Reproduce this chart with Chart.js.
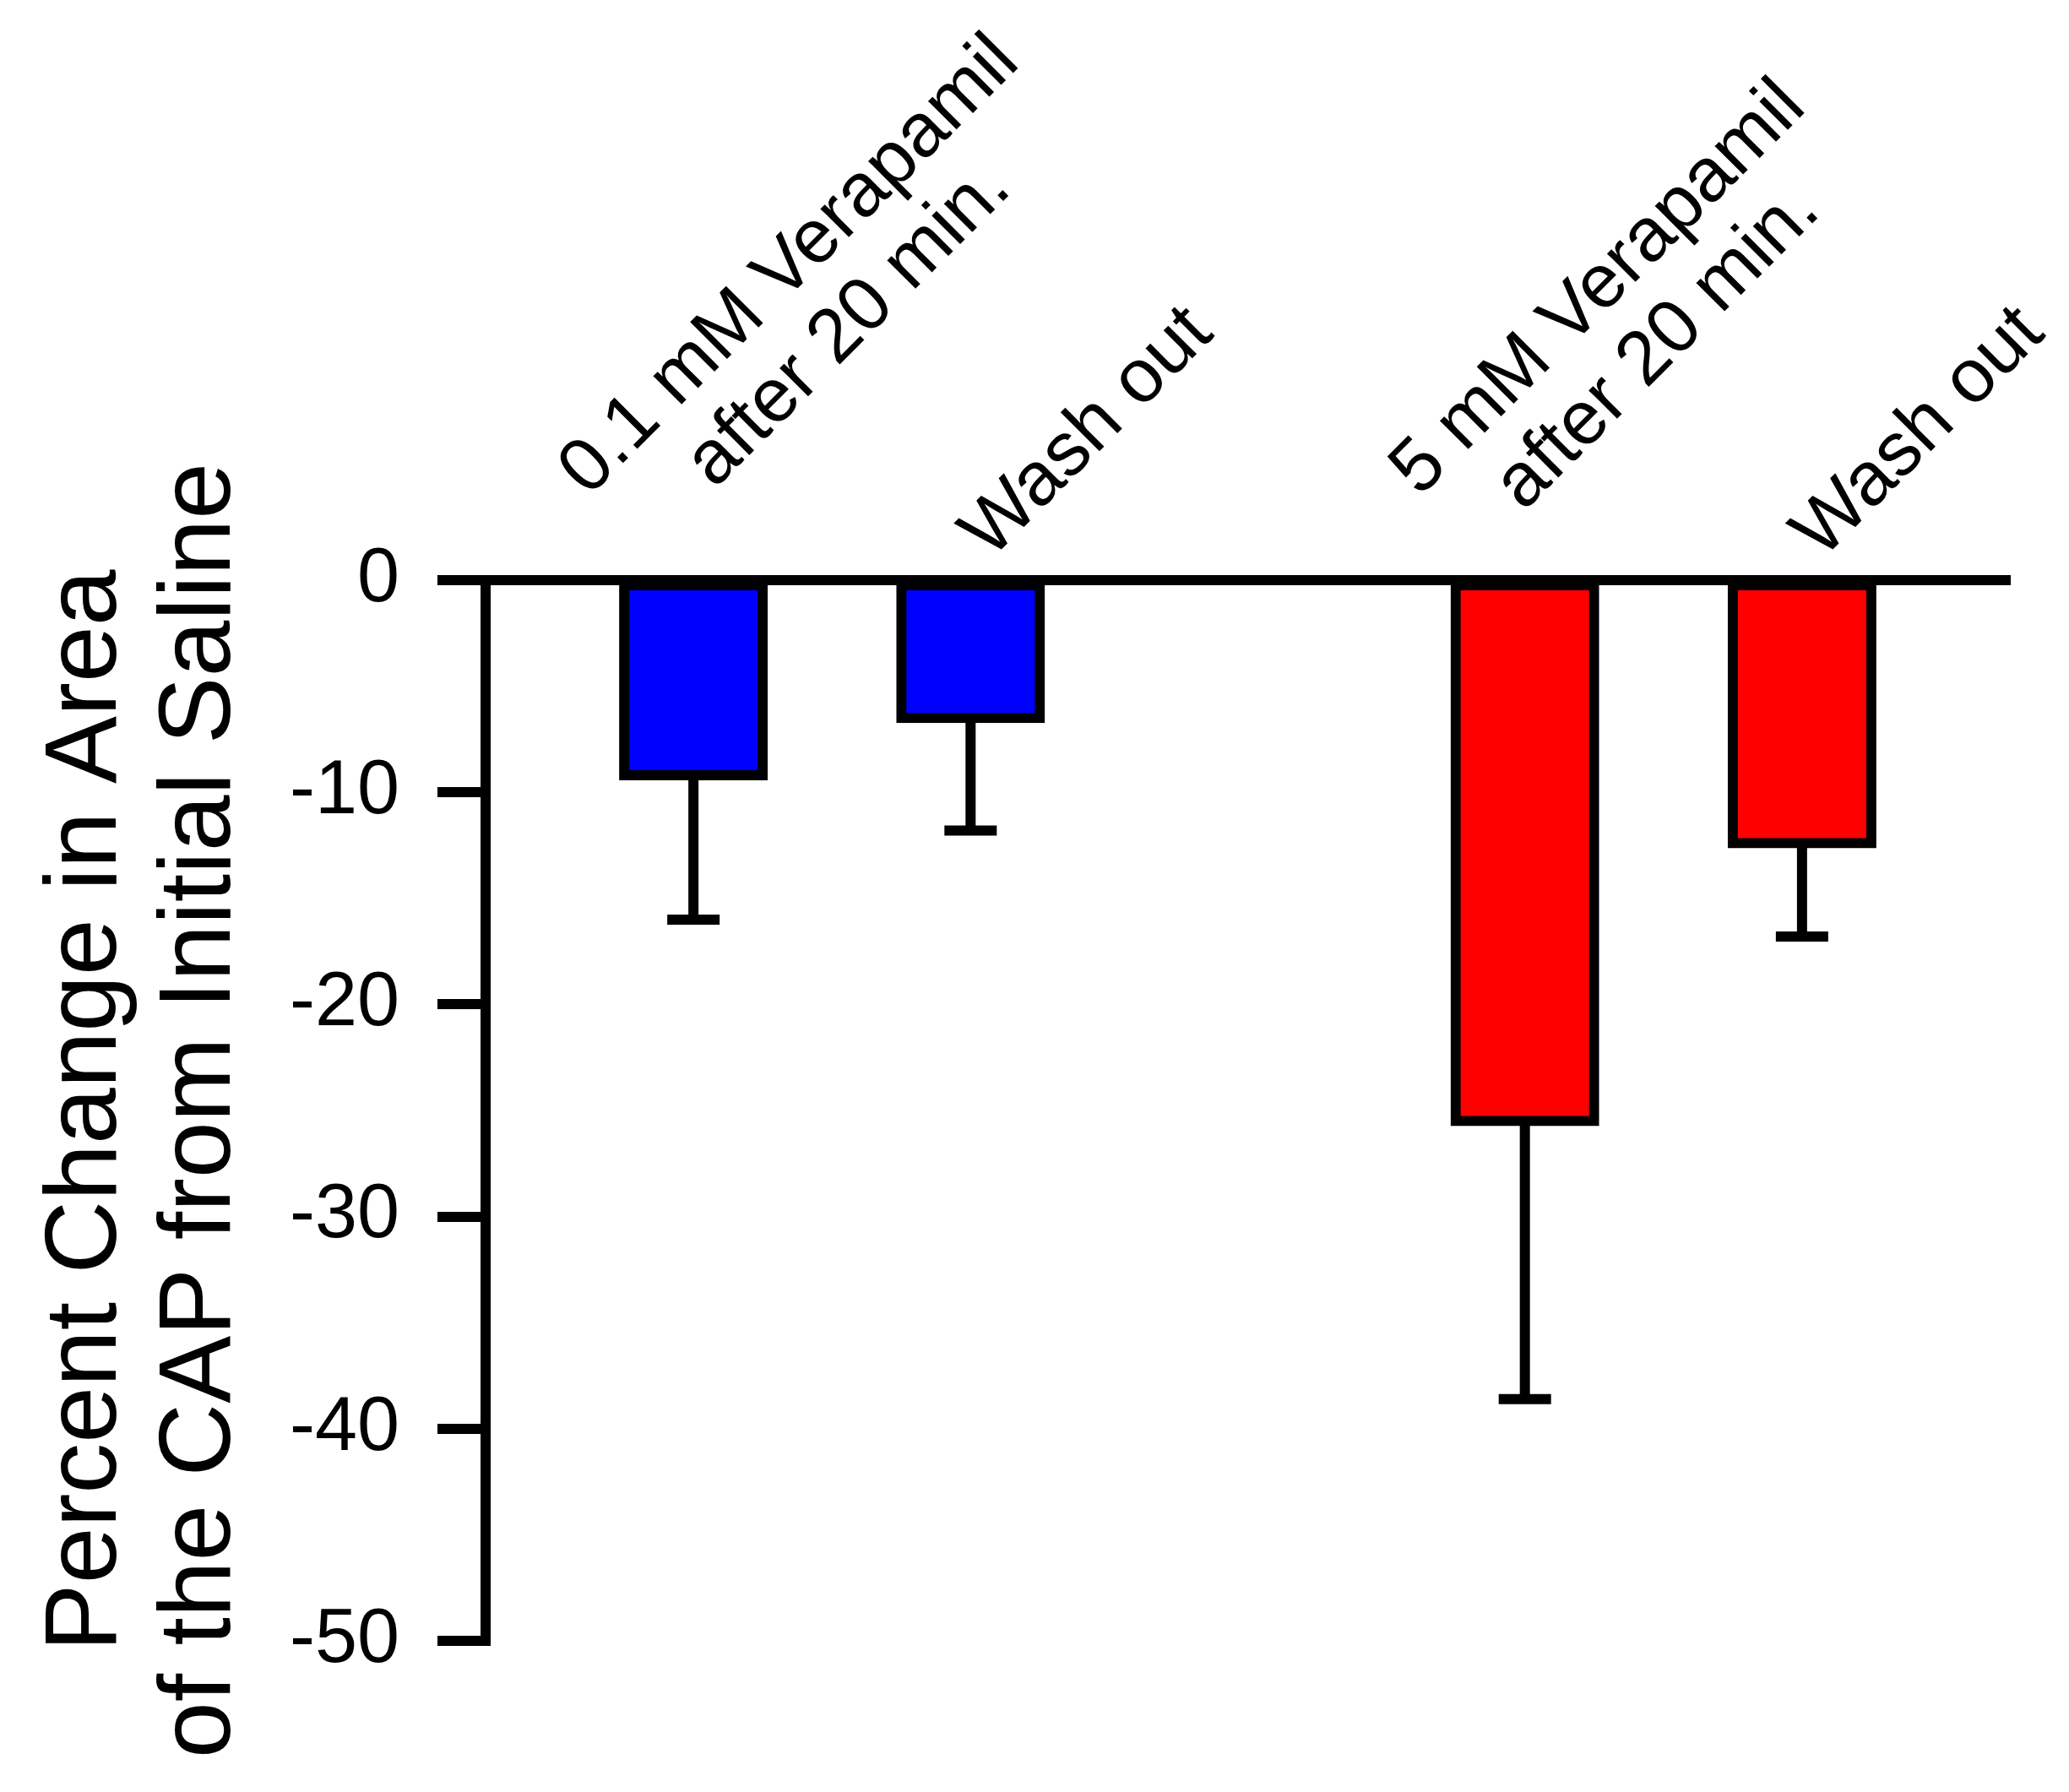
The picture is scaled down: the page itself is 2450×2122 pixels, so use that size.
<!DOCTYPE html>
<html>
<head>
<meta charset="utf-8">
<script src="https://cdn.jsdelivr.net/npm/chart.js@4/dist/chart.umd.min.js"></script>
<style>
  html, body { margin: 0; padding: 0; background: #ffffff; }
  canvas { display: block; }
</style>
</head>
<body>
<canvas id="c" width="2450" height="2122"></canvas>
<script>
// ---- data ----
const categories = [
  ['0.1 mM Verapamil', 'after 20 min.'],
  'Wash out',
  ['5 mM Verapamil', 'after 20 min.'],
  'Wash out'
];
const slots = [1, 2, 4, 5];            // category slot (one empty slot between groups)
const means = [-9.2, -6.5, -25.5, -12.4];
const sems = [6.8, 5.3, 13.1, 4.4];
const barColors = ['#0000ff', '#0000ff', '#ff0000', '#ff0000'];
const yTicks = [0, -10, -20, -30, -40, -50];
const yTitle = ['Percent Change in Area', 'of the CAP from Initial Saline'];

// ---- styles ----
const FAMILY = "'Liberation Sans', Arial, Helvetica, sans-serif";
const LINE = 12;
Chart.defaults.font.family = FAMILY;
Chart.defaults.color = '#000000';

const errorBarPlugin = {
  id: 'errorBars',
  afterDatasetsDraw(chart) {
    const { ctx, scales: { x, y } } = chart;
    ctx.save();
    ctx.strokeStyle = '#000000';
    ctx.lineWidth = LINE;
    ctx.lineCap = 'butt';
    means.forEach((m, i) => {
      const px = x.getPixelForValue(slots[i]);
      const y0 = y.getPixelForValue(m);
      const y1 = y.getPixelForValue(m - sems[i]);
      ctx.beginPath();
      ctx.moveTo(px, y0);
      ctx.lineTo(px, y1);
      ctx.stroke();
      ctx.beginPath();
      ctx.moveTo(px - 31, y1);
      ctx.lineTo(px + 31, y1);
      ctx.stroke();
    });
    ctx.restore();
  }
};

const topLabelPlugin = {
  id: 'topLabels',
  afterDraw(chart) {
    const { ctx, scales: { x, y } } = chart;
    ctx.save();
    ctx.font = '90px ' + FAMILY;
    ctx.fillStyle = '#000000';
    ctx.textBaseline = 'alphabetic';
    ctx.textAlign = 'center';
    const lh = 99;
    categories.forEach((lab, i) => {
      const lines = Array.isArray(lab) ? lab : [lab];
      const n = lines.length;
      const du = n > 1 ? -19 : 33;
      const dv = n > 1 ? -58 : 0;
      const w = Math.max(...lines.map(l => ctx.measureText(l).width));
      ctx.save();
      ctx.translate(x.getPixelForValue(slots[i]), y.getPixelForValue(0));
      ctx.rotate(-Math.PI / 4);
      lines.forEach((l, j) => ctx.fillText(l, du + w / 2, dv - (n - 1 - j) * lh));
      ctx.restore();
    });
    ctx.restore();
  }
};

new Chart(document.getElementById('c'), {
  type: 'bar',
  data: {
    datasets: [{
      data: slots.map((s, i) => ({ x: s, y: means[i] })),
      backgroundColor: barColors,
      borderColor: '#000000',
      borderWidth: LINE,
      borderSkipped: false,
      inflateAmount: LINE / 2,
      barPercentage: 0.5,
      categoryPercentage: 1.0
    }]
  },
  options: {
    responsive: false,
    devicePixelRatio: 1,
    animation: false,
    layout: { padding: { left: 0, right: 70, top: 687, bottom: 179 } },
    plugins: { legend: { display: false }, tooltip: { enabled: false }, title: { display: false } },
    scales: {
      x: {
        type: 'linear',
        position: 'top',
        offset: false,
        bounds: 'data',
        grace: 0,
        min: 0.25,
        max: 5.75,
        afterBuildTicks: (s) => { s.ticks = slots.map(v => ({ value: v })); },
        afterFit: (s) => { s.height = 0; },
        ticks: { display: false },
        grid: { display: false, offset: false },
        border: { display: true, color: '#000000', width: LINE }
      },
      y: {
        type: 'linear',
        min: -50,
        max: 0,
        afterBuildTicks: (s) => { s.ticks = yTicks.map(v => ({ value: v })); },
        afterFit: (s) => { s.width = 575; },
        ticks: {
          font: { size: 90 },
          color: '#000000',
          padding: 45,
          callback: (v) => String(v)
        },
        grid: {
          display: true,
          drawOnChartArea: false,
          drawTicks: true,
          tickLength: 57,
          tickWidth: LINE,
          tickColor: '#000000',
          color: '#000000',
          lineWidth: LINE
        },
        border: { display: true, color: '#000000', width: LINE },
        title: {
          display: true,
          text: yTitle,
          color: '#000000',
          font: { size: 120, lineHeight: 1.125 },
          padding: { top: 36, bottom: 0 }
        }
      }
    }
  },
  plugins: [errorBarPlugin, topLabelPlugin]
});
</script>
</body>
</html>
